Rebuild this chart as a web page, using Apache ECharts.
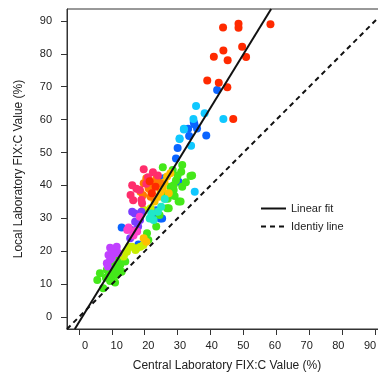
<!DOCTYPE html>
<html>
<head>
<meta charset="utf-8">
<script src="https://cdn.jsdelivr.net/npm/echarts@6/dist/echarts.min.js"></script>
<style>
html,body{margin:0;padding:0;background:#fff;}
#chart{width:378px;height:373px;}
</style>
</head>
<body>
<div id="chart"></div>
<script>
// ---- data ----
const tickValues = [0,10,20,30,40,50,60,70,80,90];
const axisMin = -3.6, axisMax = 93.6;
// the x tick labels in the reference sit on a slightly narrower scale than the ticks
const xLabelMin = -5.68, xLabelMax = 95.37;
const fitSlope = 1.63, fitIntercept = -1.6;

const redPts = [[43.8,88],[48.5,89.1],[48.5,87.9],[58.2,89],[43.9,81],[49.6,82.1],[41,79.1],[45.2,78],[50.8,79],[39,71.9],[42.5,71.2],[45.1,69.8],[46.9,60.2],[23.3,39.6],[21.5,41.3],[22.2,37.6]];
const crimsonPts = [[19.7,44.9],[24,43],[16.2,40.1],[19,35.6],[15.7,37.1],[19.2,34.6],[18.5,38.6],[21,42.5],[17.5,39],[20.5,40.5],[22.5,44],[16.5,35.5]];
const orangePts = [[19.7,40.7],[21.2,39.1],[23,40.1],[20.5,42.2],[18.7,38.1],[21.8,36.6],[24.8,40.7],[22,38.2],[19.5,37],[23.5,42]];
const goldPts = [[26.8,42.7],[27.8,43.7],[24.3,36.6],[23,35.1],[27.3,37.6],[25.5,39],[19.7,24],[20.5,22.9],[24.8,38],[26,41]];
const limePts = [[17.2,20.4],[15.2,21.4],[14.2,19.9],[18.7,21.4],[21.8,33.1],[19.7,32.6],[16.1,21.4],[17.6,20.9],[14.6,19.9],[13.6,18.4],[19.6,21.9]];
const greenPts = [[5.6,11.3],[7.4,8.8],[6.4,13.3],[8.5,14.4],[10,12.3],[11.5,12.8],[12.6,15.9],[13,13.8],[14.1,16.9],[10.5,16],[12,18],[9.5,11],[11,10.5],[8.2,12],[13.5,18.5],[12,14.5],[10,14],[9,13],
  [31.4,46.2],[28.5,44.7],[31.1,44.2],[33.9,42.9],[27.8,39.6],[28.8,38.6],[31.4,39.6],[29.1,36.8],[30.3,35.1],[26.8,33.1],[25.5,45.5],[29.5,41.5],[32.5,41],[27,36],[24.5,31],[23.5,27.5],[20.7,25.5],[21.1,23.4],[26,37.5],[30,43],[27.3,33.1],[27.8,37.1],[30.9,35.1],[28.8,40.1],[34.4,43]];
const tealPts = [[22.7,29.5],[26.1,35.9],[24,32],[22,31.5],[25,33.5],[21.5,30]];
const cyanPts = [[35.6,64.1],[38.2,61.9],[43.9,60.2],[34.8,60.2],[31.9,57.2],[30.6,54.3],[34.1,52.1],[35.2,38.1],[31.9,57],[30.6,54.1]];
const bluePts = [[42,69],[35.1,58.6],[33.2,57.2],[35.9,57.3],[38.7,55.2],[30,51.4],[34.9,59.3],[29.5,48.2],[30.3,41.1],[25.8,42.2],[22.3,31],[25.3,30],[24.7,30],[13,27.2],[18.1,22.1],[23.5,32.5],[33.5,55]];
const violetPts = [[16.2,32],[17.1,29],[18.6,29.5],[15.6,24],[17,31.5],[19,32],[18,27.5],[16,26.5]];
const purplePts = [[9.5,21.1],[11.5,21.4],[9,18.9],[9.5,17.4],[8.5,16.4],[11,19.4],[8.8,15.4],[10.5,20],[10,18],[12,19.5]];
const magentaPts = [[15.1,27.2],[17.1,26.2],[16.6,24.8],[14.7,26.5],[17.7,26],[18.5,30.5]];

const groups = [
  ['#0a64ff', bluePts], ['#10c8ff', cyanPts], ['#44e81a', greenPts], ['#c8ee00', limePts],
  ['#ffbf00', goldPts], ['#20e8c8', tealPts], ['#7a3cff', violetPts], ['#c040ff', purplePts],
  ['#ff40c8', magentaPts], ['#ff7a00', orangePts], ['#ff2d6b', crimsonPts], ['#ff2a00', redPts]
];

const fitLine = [[(axisMin - fitIntercept)/fitSlope, axisMin], [(axisMax - fitIntercept)/fitSlope, axisMax]];
const idLine = [[axisMin, axisMin], [axisMax, axisMax]];

const chart = echarts.init(document.getElementById('chart'), null, {renderer:'canvas'});
const font = 'Liberation Sans, Arial, Helvetica, sans-serif';
const axisCommon = {
  type:'value', min:axisMin, max:axisMax,
  axisLine:{show:true, onZero:false, lineStyle:{color:'#333', width:1}},
  axisTick:{show:true, inside:false, length:6, customValues:tickValues, lineStyle:{color:'#333', width:1}},
  axisLabel:{customValues:tickValues, color:'#222', fontSize:11, fontFamily:font},
  splitLine:{show:false},
  nameLocation:'middle',
  nameTextStyle:{color:'#222', fontSize:12, fontFamily:font}
};
const series = groups.map(([c, pts]) => ({
  type:'scatter', data:pts, symbolSize:8, itemStyle:{color:c, opacity:1}, silent:true, z:2
}));
series.push({name:'Linear fit', type:'line', data:fitLine, showSymbol:false, symbol:'none',
  itemStyle:{color:'#111'}, lineStyle:{color:'#111', width:2}, z:3, silent:true});
series.push({name:'Identiy line', type:'line', data:idLine, showSymbol:false, symbol:'none',
  itemStyle:{color:'#111'}, lineStyle:{color:'#111', width:2, type:[5,4]}, z:3, silent:true});

chart.setOption({
  animation:false,
  grid:{left:67, top:9, width:320, height:320, show:true, borderColor:'#333', borderWidth:1,
    containLabel:false, outerBoundsMode:'none'},
  xAxis:[
    Object.assign({}, axisCommon, {name:'Central Laboratory FIX:C Value (%)', nameGap:31,
      axisLabel:{show:false}}),
    {type:'value', position:'bottom', min:xLabelMin, max:xLabelMax,
      axisLine:{show:false}, axisTick:{show:false}, splitLine:{show:false},
      axisLabel:{customValues:tickValues, color:'#222', fontSize:11, fontFamily:font, margin:11}}
  ],
  yAxis:Object.assign({}, axisCommon, {name:'Local Laboratory FIX:C Value (%)', nameGap:42,
    axisLabel:Object.assign({}, axisCommon.axisLabel, {margin:15})}),
  legend:{orient:'vertical', left:255, top:198, itemWidth:25, itemHeight:10, itemGap:7,
    data:['Linear fit','Identiy line'], textStyle:{color:'#222', fontSize:11, fontFamily:font},
    itemStyle:{opacity:0, borderWidth:0}, lineStyle:{color:'#111', width:2},
    inactiveColor:'#222', selectedMode:false},
  series:series
});
</script>
</body>
</html>
